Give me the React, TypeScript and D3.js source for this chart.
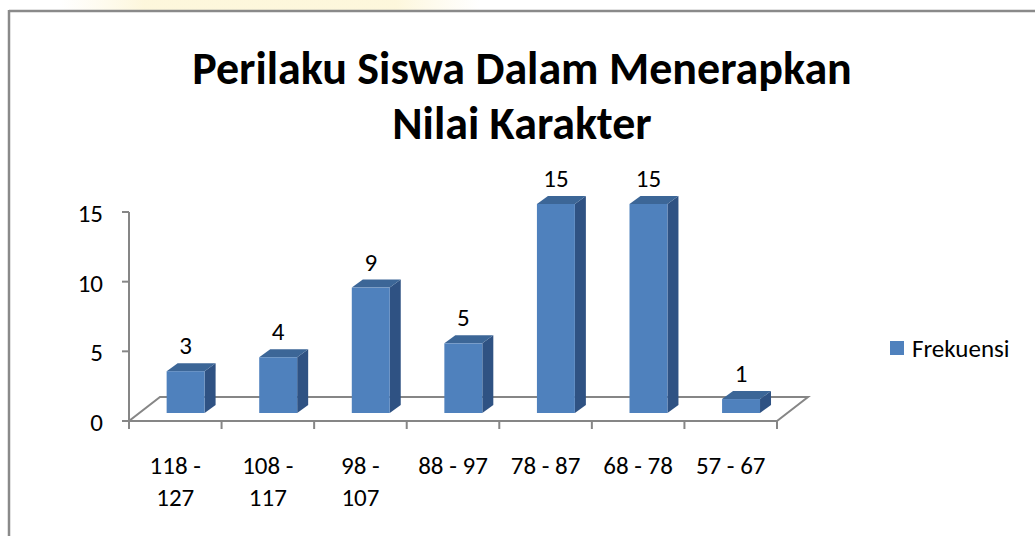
import React from "react";
import * as d3 from "d3";

const title = ["Perilaku Siswa Dalam Menerapkan", "Nilai Karakter"];
const categories = ["118 - 127", "108 - 117", "98 - 107", "88 - 97", "78 - 87", "68 - 78", "57 - 67"];
const categoryLabelLines = [["118 -", "127"], ["108 -", "117"], ["98 -", "107"], ["88 - 97"], ["78 - 87"], ["68 - 78"], ["57 - 67"]];
const frekuensi = [3, 4, 9, 5, 15, 15, 1];
const yTicks = [0, 5, 10, 15];
const seriesName = "Frekuensi";

const FONT = "Carlito, Lato, 'Open Sans', sans-serif";

export default function App() {
  const W = 1035, H = 536;
  const x = d3.scaleBand<string>().domain(categories).range([129, 777]).padding(0);
  const y = d3.scaleLinear().domain([0, 15]).range([421, 212]);
  const depthDx = 31, depthDy = -24;
  const f = 1 / 3;
  const bdx = 11, bdy = -8;
  const bw = x.bandwidth() * 0.41;
  const axisColor = "#868686";
  const y0 = y(0);

  return (
    <svg width={W} height={H} style={{ position: "fixed", left: 0, top: 0, background: "#fff" }} xmlns="http://www.w3.org/2000/svg">
      <defs>
        <linearGradient id="wm" x1="0" x2="1" y1="0" y2="0">
          <stop offset="0" stopColor="#fdf7df" stopOpacity="0" />
          <stop offset="0.2" stopColor="#fdf6d8" stopOpacity="0.9" />
          <stop offset="0.8" stopColor="#fdf6d8" stopOpacity="0.9" />
          <stop offset="1" stopColor="#fdf7df" stopOpacity="0" />
        </linearGradient>
      </defs>
      <rect x={0} y={0} width={W} height={H} fill="#fff" />
      <rect x={60} y={0} width={420} height={10} fill="url(#wm)" />
      {/* frame */}
      <line x1={9} y1={11} x2={W + 5} y2={11} stroke="#8a8a8a" strokeWidth={2.5} />
      <line x1={9} y1={10} x2={9} y2={H + 5} stroke="#8a8a8a" strokeWidth={2.5} />

      {/* title */}
      <text textAnchor="middle" fontFamily={FONT} fontWeight="bold" fontSize={46} fill="#000">
        <tspan x={522} y={84}>{title[0]}</tspan>
        <tspan x={522} y={139}>{title[1]}</tspan>
      </text>

      {/* floor */}
      <polygon
        points={`${129},${y0} ${777},${y0} ${777 + depthDx},${y0 + depthDy} ${129 + depthDx},${y0 + depthDy}`}
        fill="none" stroke={axisColor} strokeWidth={2} />

      {/* y axis */}
      <line x1={129} y1={y(15)} x2={129} y2={y0} stroke={axisColor} strokeWidth={2} />
      {yTicks.map(t => (
        <g key={t}>
          <line x1={122} x2={129} y1={y(t)} y2={y(t)} stroke={axisColor} strokeWidth={2} />
          <text x={103} y={y(t) + 10} textAnchor="end" fontFamily={FONT} fontSize={25} fill="#000">{t}</text>
        </g>
      ))}

      {/* x ticks */}
      {categories.map((c, i) => (
        <line key={"t" + i} x1={x(c)!} x2={x(c)!} y1={y0} y2={y0 + 8} stroke={axisColor} strokeWidth={2} />
      ))}
      <line x1={777} x2={777} y1={y0} y2={y0 + 8} stroke={axisColor} strokeWidth={2} />

      {/* bars */}
      {categories.map((c, i) => {
        const v = frekuensi[i];
        const cx = x(c)! + x.bandwidth() / 2 + depthDx * f;
        const x0 = cx - bw / 2, x1 = cx + bw / 2;
        const bottom = y0 + depthDy * f;
        const top = y(v) + depthDy * f;
        return (
          <g key={c}>
            <polygon points={`${x1},${top} ${x1 + bdx},${top + bdy} ${x1 + bdx},${bottom + bdy} ${x1},${bottom}`} fill="#2f5283" />
            <polygon points={`${x0},${top} ${x0 + bdx},${top + bdy} ${x1 + bdx},${top + bdy} ${x1},${top}`} fill="#3c6697" />
            <rect x={x0} y={top} width={bw} height={bottom - top} fill="#4f81bd" />
            <text x={cx} y={top + bdy - 9} textAnchor="middle" fontFamily={FONT} fontSize={25} fill="#000">{v}</text>
          </g>
        );
      })}

      {/* x labels */}
      {categories.map((c, i) => (
        <text key={"l" + i} textAnchor="middle" fontFamily={FONT} fontSize={25} fill="#000">
          {categoryLabelLines[i].map((ln, j) => (
            <tspan key={j} x={x(c)! + x.bandwidth() / 2} y={474 + j * 32}>{ln}</tspan>
          ))}
        </text>
      ))}

      {/* legend */}
      <rect x={890} y={341} width={14} height={14} fill="#4f81bd" />
      <text x={912} y={357} fontFamily={FONT} fontSize={25} fill="#000">{seriesName}</text>
    </svg>
  );
}
